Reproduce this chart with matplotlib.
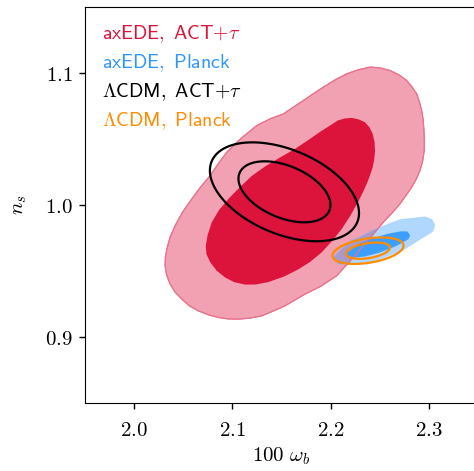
import numpy as np
import matplotlib
matplotlib.use("Agg")
import matplotlib.pyplot as plt
from matplotlib.lines import Line2D
from matplotlib.ticker import FormatStrFormatter

plt.rcParams["mathtext.fontset"] = "cm"
plt.rcParams["font.size"] = 15

# axEDE, ACT+tau : traced contour outlines (100 omega_b, n_s)
ede_act_95_x = [2.2164, 2.2279, 2.2401, 2.2503, 2.2604, 2.2696, 2.2774, 2.2828, 2.2876, 2.2904,
                2.2927, 2.2942, 2.2950, 2.2954, 2.2953, 2.2937, 2.2909, 2.2872, 2.2825, 2.2767,
                2.2706, 2.2625, 2.2536, 2.2436, 2.2333, 2.2197, 2.2062, 2.1902, 2.1740, 2.1536,
                2.1414, 2.1299, 2.1180, 2.1061, 2.0956, 2.0858, 2.0753, 2.0654, 2.0560, 2.0485,
                2.0417, 2.0366, 2.0331, 2.0315, 2.0318, 2.0333, 2.0366, 2.0417, 2.0493, 2.0587,
                2.0677, 2.0773, 2.0855, 2.0943, 2.1089, 2.1248, 2.1384, 2.1519, 2.1618, 2.1722,
                2.1821, 2.1926, 2.2045]
ede_act_95_y = [1.0994, 1.1024, 1.1045, 1.1039, 1.1019, 1.0986, 1.0943, 1.0895, 1.0842, 1.0781,
                1.0715, 1.0645, 1.0564, 1.0489, 1.0412, 1.0334, 1.0260, 1.0197, 1.0134, 1.0072,
                1.0008, 0.9939, 0.9869, 0.9780, 0.9691, 0.9575, 0.9464, 0.9385, 0.9325, 0.9236,
                0.9196, 0.9160, 0.9143, 0.9135, 0.9137, 0.9148, 0.9169, 0.9198, 0.9237, 0.9287,
                0.9340, 0.9401, 0.9469, 0.9539, 0.9605, 0.9666, 0.9757, 0.9843, 0.9947, 1.0046,
                1.0137, 1.0222, 1.0311, 1.0400, 1.0505, 1.0602, 1.0653, 1.0690, 1.0740, 1.0791,
                1.0842, 1.0893, 1.0948]
ede_act_68_x = [2.2075, 2.2146, 2.2215, 2.2284, 2.2350, 2.2396, 2.2428, 2.2447, 2.2452, 2.2445,
                2.2428, 2.2401, 2.2367, 2.2328, 2.2282, 2.2202, 2.2113, 2.2014, 2.1909, 2.1790,
                2.1668, 2.1526, 2.1366, 2.1241, 2.1129, 2.1017, 2.0926, 2.0839, 2.0773, 2.0736,
                2.0729, 2.0748, 2.0790, 2.0865, 2.0959, 2.1073, 2.1197, 2.1333, 2.1485, 2.1638,
                2.1790, 2.1892, 2.1994]
ede_act_68_y = [1.0641, 1.0656, 1.0660, 1.0649, 1.0627, 1.0588, 1.0539, 1.0478, 1.0412, 1.0349,
                1.0286, 1.0224, 1.0159, 1.0095, 1.0027, 0.9920, 0.9818, 0.9727, 0.9641, 0.9568,
                0.9511, 0.9458, 0.9416, 0.9398, 0.9397, 0.9416, 0.9451, 0.9503, 0.9568, 0.9628,
                0.9689, 0.9772, 0.9869, 0.9962, 1.0046, 1.0133, 1.0220, 1.0292, 1.0360, 1.0425,
                1.0501, 1.0554, 1.0602]

# axEDE, Planck
ede_pl_95_x = [2.202, 2.210, 2.220, 2.230, 2.243, 2.257, 2.271, 2.284, 2.296, 2.303,
               2.306, 2.304, 2.291, 2.274, 2.250, 2.227, 2.208]
ede_pl_95_y = [0.960, 0.966, 0.973, 0.976, 0.981, 0.985, 0.989, 0.990, 0.991, 0.989,
               0.985, 0.980, 0.974, 0.966, 0.959, 0.955, 0.955]
ede_pl_68_x = [2.216, 2.227, 2.240, 2.257, 2.271, 2.278, 2.281, 2.279, 2.267, 2.250,
               2.235, 2.222]
ede_pl_68_y = [0.963, 0.970, 0.974, 0.978, 0.980, 0.980, 0.977, 0.974, 0.969, 0.964,
               0.961, 0.960]

# LCDM posteriors (mean, sigma, correlation) for [100 omega_b, n_s]
lcdm_act_mean = [2.153, 1.010]
lcdm_act_sig = [0.031, 0.0153]
lcdm_act_rho = -0.43
lcdm_pl_mean = [2.238, 0.9654]
lcdm_pl_sig = [0.0148, 0.0041]
lcdm_pl_rho = 0.38

labels = [r"$\mathsf{axEDE,\ ACT}{+}\tau$", r"$\mathsf{axEDE,\ Planck}$",
          r"$\Lambda\mathsf{CDM,\ ACT}{+}\tau$", r"$\Lambda\mathsf{CDM,\ Planck}$"]
colors = ["#DC143C", "#2F95FF", "black", "#FF8C00"]

xticks = [2.0, 2.1, 2.2, 2.3]
yticks = [0.9, 1.0, 1.1]


def chi2_grid(mean, sig, rho, X, Y):
    dx = (X - mean[0]) / sig[0]
    dy = (Y - mean[1]) / sig[1]
    return (dx**2 - 2 * rho * dx * dy + dy**2) / (1 - rho**2)


fig = plt.figure(figsize=(4.74, 4.71), dpi=100)
ax = fig.add_axes([85/474, 68/471, 393/474, 396/471])

ax.fill(ede_act_95_x, ede_act_95_y, color="#F1A1B1", ec="#E8738C", lw=0.8, zorder=1)
ax.fill(ede_act_68_x, ede_act_68_y, color="#DC143C", lw=0, zorder=2)
ax.fill(ede_pl_95_x, ede_pl_95_y, color="#1E90FF", alpha=0.35, ec="#8CC4FF", lw=0.8, zorder=3)
ax.fill(ede_pl_68_x, ede_pl_68_y, color="#3C9EFF", lw=0, zorder=4)
ax.plot(ede_act_95_x + ede_act_95_x[:1], ede_act_95_y + ede_act_95_y[:1],
        color="#E8738C", lw=0.8, zorder=5)

gx, gy = np.meshgrid(np.linspace(1.95, 2.35, 600), np.linspace(0.85, 1.15, 600))
levels = [2.279, 5.991]
ax.contour(gx, gy, chi2_grid(lcdm_act_mean, lcdm_act_sig, lcdm_act_rho, gx, gy),
           levels=levels, colors="black", linewidths=1.6, zorder=6)
ax.contour(gx, gy, chi2_grid(lcdm_pl_mean, lcdm_pl_sig, lcdm_pl_rho, gx, gy),
           levels=levels, colors="#FF8C00", linewidths=1.6, zorder=7)

ax.set_xlim(1.95, 2.35)
ax.set_ylim(0.85, 1.15)
ax.set_xticks(xticks)
ax.set_yticks(yticks)
ax.xaxis.set_major_formatter(FormatStrFormatter(r"$%.1f$"))
ax.yaxis.set_major_formatter(FormatStrFormatter(r"$%.1f$"))
ax.tick_params(direction="out", length=4, width=1, labelsize=15)
ax.tick_params(axis="x", pad=8)
ax.tick_params(axis="y", pad=5)
ax.set_xlabel(r"$100\ \omega_b$", fontsize=15, labelpad=4)
ax.set_ylabel(r"$n_s$", fontsize=15, labelpad=11)

handles = [Line2D([], [], color=c, lw=0) for c in colors]
leg = ax.legend(handles, labels, loc="upper left", frameon=False, handlelength=0,
                handletextpad=0, fontsize=14.3, labelspacing=0.36,
                bbox_to_anchor=(-0.003, 1.005))
for t, c in zip(leg.get_texts(), colors):
    t.set_color(c)

fig.savefig("out.png", dpi=100)
